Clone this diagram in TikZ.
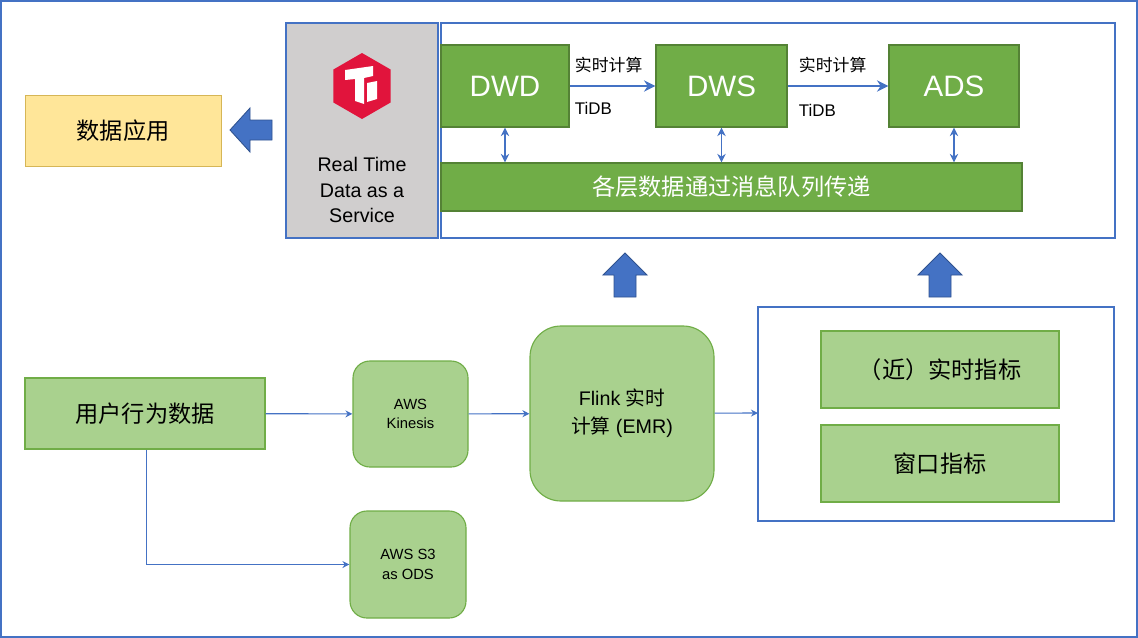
\documentclass[tikz,border=0pt]{standalone}
\usepackage{fontspec}
\setmainfont{Liberation Sans}
\newfontfamily\cjk{Noto Sans CJK SC}
\usetikzlibrary{arrows.meta,shapes.geometric}
\definecolor{frame_blue}{RGB}{68,114,196}
\definecolor{edge_blue}{RGB}{47,82,143}
\definecolor{node_dark}{RGB}{112,173,71}
\definecolor{edge_dark}{RGB}{84,130,53}
\definecolor{node_light}{RGB}{169,209,142}
\definecolor{node_yell}{RGB}{255,230,153}
\definecolor{edge_yell}{RGB}{214,182,86}
\definecolor{node_gray}{RGB}{208,206,206}
\definecolor{ti_red}{RGB}{225,20,60}
\begin{document}
\begin{tikzpicture}[x=0.025cm,y=-0.025cm,>=Stealth]
    \tikzstyle{frame}=[draw=frame_blue,line width=1pt]
    \tikzstyle{layer}=[draw=edge_dark,fill=node_dark,line width=1pt,text=white,font=\fontsize{21}{21}\selectfont]
    \tikzstyle{lite}=[draw=node_dark,fill=node_light,line width=0.8pt,text=black]
    \tikzstyle{flow}=[->,draw=frame_blue,line width=0.8pt,>={Stealth[length=5pt,width=5pt]}]
    \tikzstyle{layerflow}=[->,draw=frame_blue,line width=1.5pt,>={Stealth[length=8pt,width=8pt]}]
    \tikzstyle{both}=[<->,draw=frame_blue,line width=0.8pt,>={Stealth[length=6pt,width=6pt]}]
    \tikzstyle{fat}=[fill=frame_blue,draw=edge_blue,line width=0.6pt]
    \tikzstyle{tag}=[font=\cjk\fontsize{12}{12}\selectfont]
    \tikzstyle{zh}=[font=\cjk\fontsize{16.5}{16.5}\selectfont]

    \useasboundingbox (0,0) rectangle (1138,638);
    \draw[frame] (1,1) rectangle (1137,637);

    % top part
    \node[zh,draw=edge_yell,fill=node_yell,minimum width=196*0.025cm,minimum height=71*0.025cm] (app) at (123,130.5) {数据应用};
    \draw[fat] (230,130) -- (250,108) -- (250,120) -- (272,120) -- (272,140) -- (250,140) -- (250,152) -- cycle;
    \fill[node_gray] (286,23) rectangle (438,238);
    \draw[frame] (286,23) rectangle (438,238);
    \draw[frame] (441,23) rectangle (1115,238);
    \node[regular polygon,regular polygon sides=6,shape border rotate=30,fill=ti_red,minimum size=66*0.025cm,inner sep=0pt] (logo) at (362,86) {};
    \fill[white] (345,70) -- (373,66) -- (373,76) -- (364,78) -- (364,104) -- (355,101) -- (355,79) -- (345,80) -- cycle;
    \fill[white] (367,83) -- (377,81) -- (377,99) -- (367,102) -- cycle;
    \node[align=center,font=\fontsize{14}{18}\selectfont] (rtdas) at (362,190) {Real Time\\Data as a\\Service};

    \node[layer,minimum width=128*0.025cm,minimum height=82*0.025cm] (dwd) at (505,86) {DWD};
    \node[layer,minimum width=131*0.025cm,minimum height=82*0.025cm] (dws) at (721.5,86) {DWS};
    \node[layer,minimum width=130*0.025cm,minimum height=82*0.025cm] (ads) at (954,86) {ADS};
    \node[layer,zh,minimum width=581*0.025cm,minimum height=48*0.025cm] (bus) at (731.5,187) {各层数据通过消息队列传递};

    \draw[layerflow] (dwd) -- (dws);
    \draw[layerflow] (dws) -- (ads);
    \node[tag,anchor=west] (calc1) at (570,65) {实时计算};
    \node[anchor=west,font=\fontsize{12}{12}\selectfont] (tidb1) at (570,108) {TiDB};
    \node[tag,anchor=west] (calc2) at (794,65) {实时计算};
    \node[anchor=west,font=\fontsize{12}{12}\selectfont] (tidb2) at (794,110) {TiDB};
    \draw[both] (dwd.south) -- (dwd.south|-bus.north);
    \draw[both] (dws.south) -- (dws.south|-bus.north);
    \draw[both] (ads.south) -- (ads.south|-bus.north);

    \draw[fat] (625,253) -- (647,275) -- (636,275) -- (636,297) -- (614,297) -- (614,275) -- (603,275) -- cycle;
    \draw[fat] (940,253) -- (962,275) -- (951,275) -- (951,297) -- (929,297) -- (929,275) -- (918,275) -- cycle;

    % bottom part
    \draw[frame] (758,307) rectangle (1114,521);
    \node[lite,zh,minimum width=238*0.025cm,minimum height=77*0.025cm] (near) at (940,369.5) {（近）实时指标};
    \node[lite,zh,minimum width=238*0.025cm,minimum height=77*0.025cm] (win) at (940,463.5) {窗口指标};
    \coordinate (box) at (758,413);

    \node[lite,zh,minimum width=240*0.025cm,minimum height=71*0.025cm] (user) at (145,413.5) {用户行为数据};
    \node[lite,rounded corners=12pt,minimum width=115*0.025cm,minimum height=106*0.025cm,align=center,font=\fontsize{10.5}{14}\selectfont] (kin) at (410.5,414) {AWS\\Kinesis};
    \node[lite,rounded corners=22pt,minimum width=184*0.025cm,minimum height=175*0.025cm,align=center,font=\fontsize{14}{20}\selectfont] (flink) at (622,413.5) {Flink {\cjk 实时}\\{\cjk 计算} (EMR)};
    \node[lite,rounded corners=12pt,minimum width=116*0.025cm,minimum height=107*0.025cm,align=center,font=\fontsize{10.5}{14}\selectfont] (s3) at (408,564.5) {AWS S3\\as ODS};

    \draw[flow] (user) -- (kin);
    \draw[flow] (kin) -- (flink);
    \draw[flow] (flink) -- (box);
    \draw[flow] (user.south west) ++(122,0) |- (s3);
\end{tikzpicture}
\end{document}
